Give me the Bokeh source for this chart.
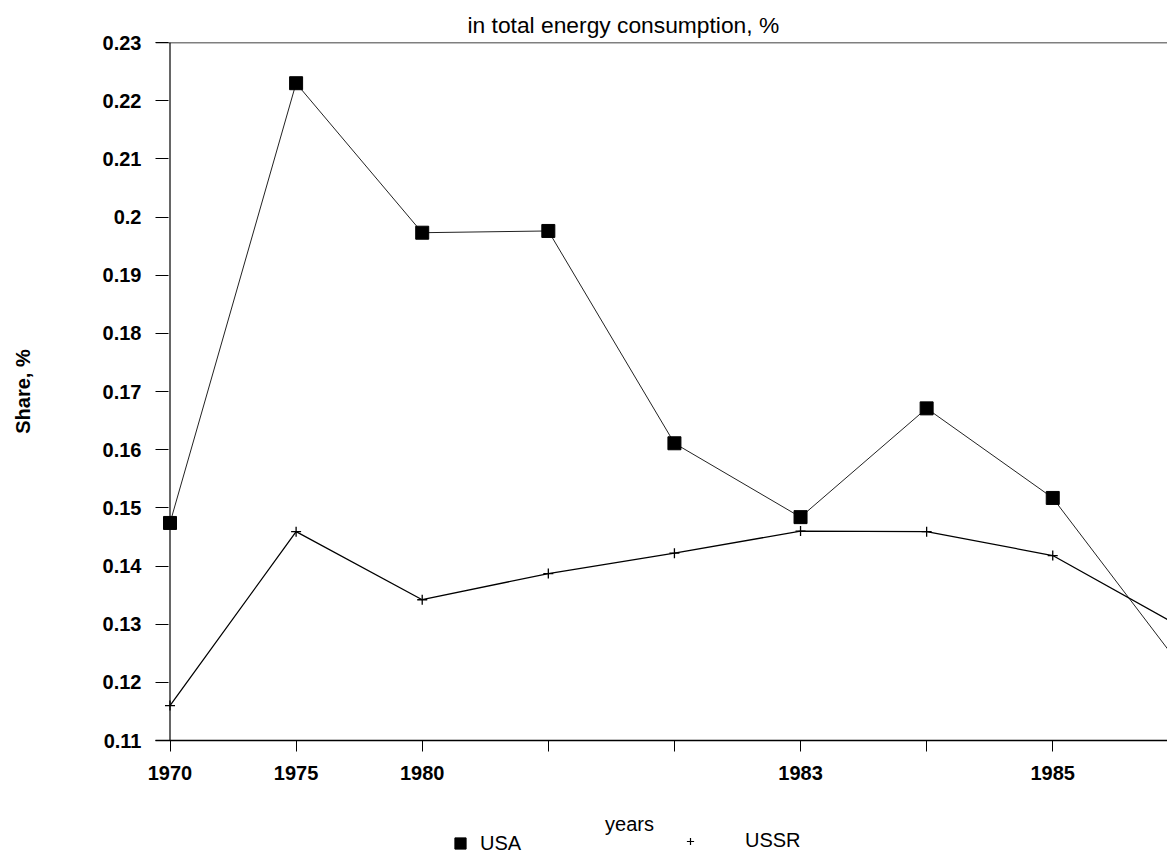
from bokeh.plotting import figure
from bokeh.layouts import column
from bokeh.models import FixedTicker, Span, Legend, LegendItem, Range1d, Label
from bokeh.embed import file_html
from bokeh.resources import INLINE

# ---- data ----
years = ["1970", "1975", "1980", "", "", "1983", "", "1985", ""]
usa = [0.1474, 0.2230, 0.1973, 0.1976, 0.1611, 0.1484, 0.1671, 0.1517, 0.1232]
ussr = [0.1160, 0.1459, 0.1342, 0.1387, 0.1422, 0.1460, 0.1459, 0.1418, 0.1297]
y_ticks = [0.11, 0.12, 0.13, 0.14, 0.15, 0.16, 0.17, 0.18, 0.19, 0.2, 0.21, 0.22, 0.23]
y_tick_labels = ["0.11", "0.12", "0.13", "0.14", "0.15", "0.16", "0.17",
                 "0.18", "0.19", "0.2", "0.21", "0.22", "0.23"]
title_text = "in total energy consumption, %"
x_title = "years"
y_title = "Share, %"
series_names = ["USA", "USSR"]

xs = list(range(len(years)))
FONT = "Liberation Sans"
W = 1167
LEFT = 155

p = figure(width=W, height=790, output_backend="svg", toolbar_location=None,
           x_range=Range1d(-0.115, 7.910), y_range=Range1d(0.11, 0.23),
           min_border_left=LEFT, min_border_right=0, min_border_top=42,
           min_border_bottom=50)
p.outline_line_color = None
p.grid.visible = False
p.background_fill_color = "white"
p.border_fill_color = "white"

# top title
p.title.text = title_text
p.title.align = "left"
p.title.offset = 312
p.title.text_font = FONT
p.title.text_font_size = "22.8px"
p.title.text_font_style = "normal"
p.title.text_color = "black"
p.title.standoff = 10

# x axis
p.xaxis.ticker = FixedTicker(ticks=xs[:8])
p.xaxis.major_label_overrides = {i: years[i] for i in range(8)}
p.xaxis.major_tick_out = 11
p.xaxis.major_tick_in = 0
p.xaxis.minor_tick_line_color = None
p.xaxis.axis_line_color = "black"
p.xaxis.axis_line_width = 1.5
p.xaxis.major_tick_line_color = "black"
p.xaxis.major_label_text_font = FONT
p.xaxis.major_label_text_font_size = "20px"
p.xaxis.major_label_text_font_style = "bold"
p.xaxis.major_label_text_color = "black"
p.xaxis.major_label_standoff = 14

# y axis
p.yaxis.ticker = FixedTicker(ticks=y_ticks)
p.yaxis.major_label_overrides = {t: l for t, l in zip(y_ticks, y_tick_labels)}
p.yaxis.major_tick_out = 0
p.yaxis.major_tick_in = 13
p.yaxis.minor_tick_line_color = None
p.yaxis.axis_line_color = None
p.yaxis.major_tick_line_color = "black"
p.yaxis.major_label_text_font = FONT
p.yaxis.major_label_text_font_size = "20px"
p.yaxis.major_label_text_font_style = "bold"
p.yaxis.major_label_text_color = "black"
p.yaxis.major_label_standoff = 14
p.yaxis.axis_label = y_title
p.yaxis.axis_label_text_font = FONT
p.yaxis.axis_label_text_font_size = "20px"
p.yaxis.axis_label_text_font_style = "bold"
p.yaxis.axis_label_text_color = "black"
p.yaxis.axis_label_standoff = 66

# frame lines (left axis line at 1970, top border)
p.add_layout(Span(location=0, dimension="height", line_color="black", line_width=1.2))
p.add_layout(Span(location=0.23, dimension="width", line_color="black", line_width=1.5))

# series
p.line(xs, usa, line_color="#222222", line_width=1)
p.line(xs, ussr, line_color="black", line_width=1.3)
p.scatter(xs, usa, marker="square", size=13, fill_color="black", line_color="black")
p.scatter(xs, ussr, marker="cross", size=10, line_color="black", line_width=1.3)

# ---- strip below: x-axis title and legend ----
H2 = 67
q = figure(width=W, height=H2, output_backend="svg", toolbar_location=None,
           x_range=Range1d(LEFT, W), y_range=Range1d(0, H2),
           x_axis_location=None, y_axis_location=None,
           min_border_left=LEFT, min_border_right=0, min_border_top=0, min_border_bottom=0)
q.outline_line_color = None
q.grid.visible = False
q.background_fill_color = "white"
q.border_fill_color = "white"

q.add_layout(Label(x=629, y=34, text=x_title, text_align="center", text_baseline="middle",
                   text_font=FONT, text_font_size="20px", text_color="black"))

# hidden copies of the series, used only as legend keys
k_usa = q.scatter(xs, usa, marker="square", fill_color="black", line_color="black",
                  visible=False)
k_ussr = q.scatter(xs, ussr, marker="cross", line_color="black", line_width=1.2,
                   visible=False)

leg_usa = Legend(items=[LegendItem(label=series_names[0], renderers=[k_usa])],
                 location=(445 - LEFT, 0), orientation="horizontal",
                 border_line_color=None, background_fill_alpha=0, padding=0, margin=0,
                 glyph_width=30, glyph_height=28, label_standoff=5,
                 inactive_fill_alpha=0,
                 label_text_font=FONT, label_text_font_size="20px",
                 label_text_color="black")
leg_ussr = Legend(items=[LegendItem(label=series_names[1], renderers=[k_ussr])],
                  location=(681 - LEFT, 5), orientation="horizontal",
                  border_line_color=None, background_fill_alpha=0, padding=0, margin=0,
                  glyph_width=18, glyph_height=18, label_standoff=46,
                  inactive_fill_alpha=0,
                  label_text_font=FONT, label_text_font_size="20px",
                  label_text_color="black")
q.add_layout(leg_usa)
q.add_layout(leg_ussr)

layout = column(p, q, spacing=0)
open("out.html", "w").write(file_html(layout, INLINE))
